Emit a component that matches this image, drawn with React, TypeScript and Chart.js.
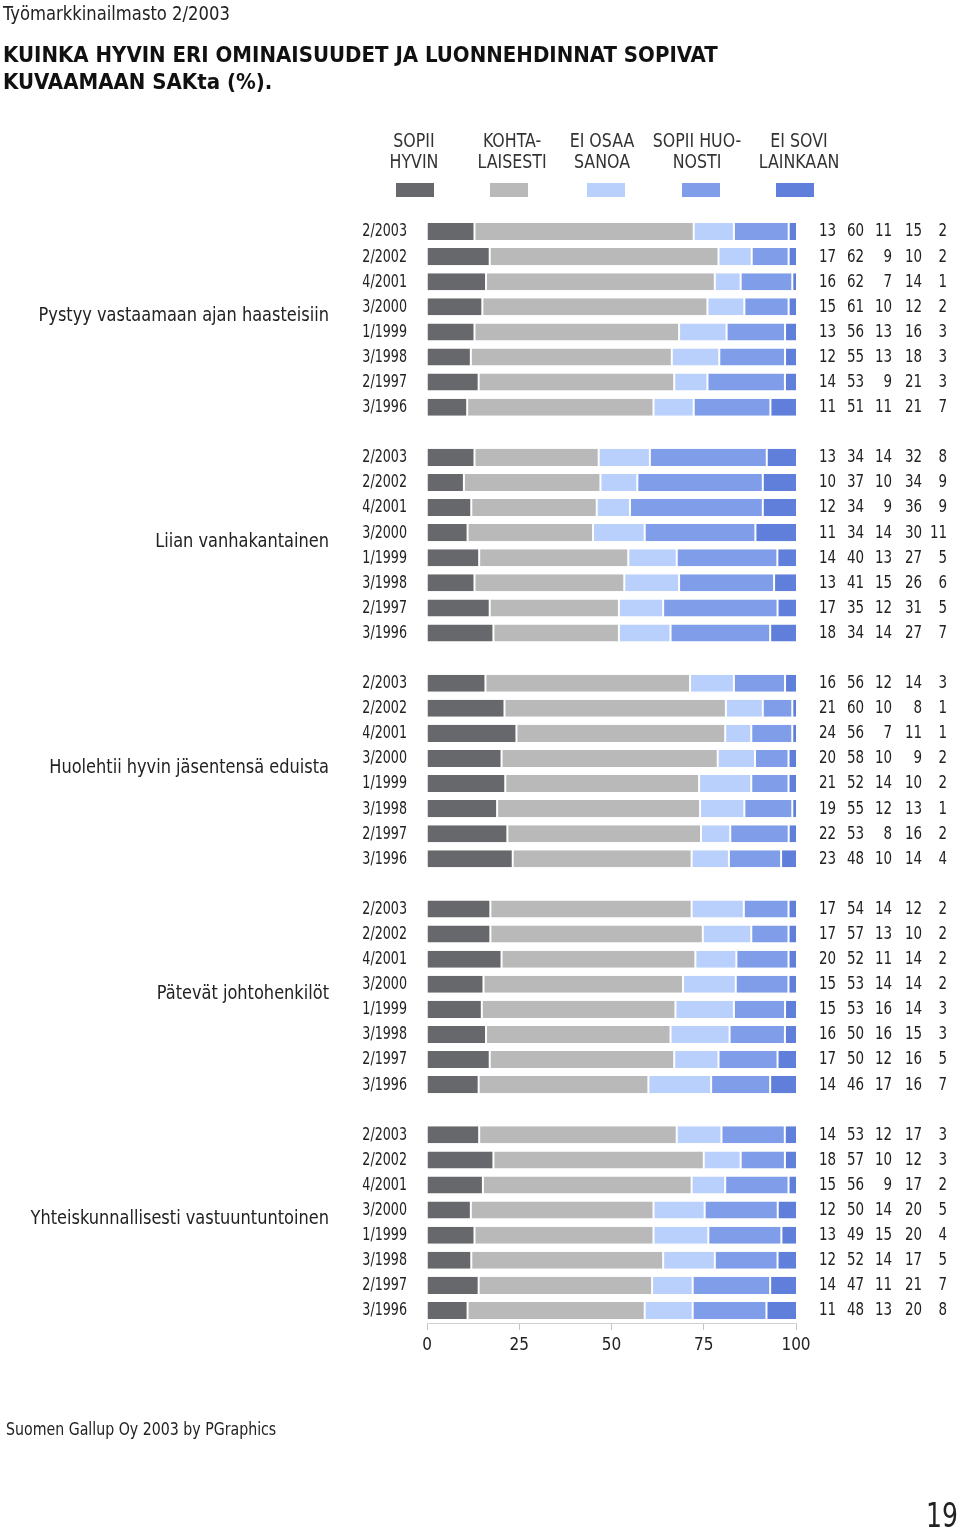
import React, { useEffect, useRef } from "react";
import { Chart, registerables } from "chart.js";

Chart.register(...registerables);

const FONT = '"Liberation Sans Narrow", "DejaVu Sans Condensed", "Arial Narrow", sans-serif';

const groups = [
  "Pystyy vastaamaan ajan haasteisiin",
  "Liian vanhakantainen",
  "Huolehtii hyvin jäsentensä eduista",
  "Pätevät johtohenkilöt",
  "Yhteiskunnallisesti vastuuntuntoinen",
];

const periods = ["2/2003", "2/2002", "4/2001", "3/2000", "1/1999", "3/1998", "2/1997", "3/1996"];

const seriesNames = [
  ["SOPII", "HYVIN"],
  ["KOHTA-", "LAISESTI"],
  ["EI OSAA", "SANOA"],
  ["SOPII HUO-", "NOSTI"],
  ["EI SOVI", "LAINKAAN"],
];

const seriesColors = ["#67686c", "#b9b9ba", "#b8d0fb", "#7f9de9", "#5f7fdb"];

const sopiiHyvin = [
  13, 17, 16, 15, 13, 12, 14, 11,
  13, 10, 12, 11, 14, 13, 17, 18,
  16, 21, 24, 20, 21, 19, 22, 23,
  17, 17, 20, 15, 15, 16, 17, 14,
  14, 18, 15, 12, 13, 12, 14, 11,
];
const kohtalaisesti = [
  60, 62, 62, 61, 56, 55, 53, 51,
  34, 37, 34, 34, 40, 41, 35, 34,
  56, 60, 56, 58, 52, 55, 53, 48,
  54, 57, 52, 53, 53, 50, 50, 46,
  53, 57, 56, 50, 49, 52, 47, 48,
];
const eiOsaaSanoa = [
  11, 9, 7, 10, 13, 13, 9, 11,
  14, 10, 9, 14, 13, 15, 12, 14,
  12, 10, 7, 10, 14, 12, 8, 10,
  14, 13, 11, 14, 16, 16, 12, 17,
  12, 10, 9, 14, 15, 14, 11, 13,
];
const sopiiHuonosti = [
  15, 10, 14, 12, 16, 18, 21, 21,
  32, 34, 36, 30, 27, 26, 31, 27,
  14, 8, 11, 9, 10, 13, 16, 14,
  12, 10, 14, 14, 14, 15, 16, 16,
  17, 12, 17, 20, 20, 17, 21, 20,
];
const eiSoviLainkaan = [
  2, 2, 1, 2, 3, 3, 3, 7,
  8, 9, 9, 11, 5, 6, 5, 7,
  3, 1, 1, 2, 2, 1, 2, 4,
  2, 2, 2, 2, 3, 3, 5, 7,
  3, 3, 2, 5, 4, 5, 7, 8,
];

const xTicks = [0, 25, 50, 75, 100];

const seriesValues = [sopiiHyvin, kohtalaisesti, eiOsaaSanoa, sopiiHuonosti, eiSoviLainkaan];

// category rows with a spacer row between groups
const rowLabels: string[] = [];
const rowIndex: number[] = [];
groups.forEach((g, gi) => {
  periods.forEach((p, pi) => {
    rowLabels.push(p);
    rowIndex.push(gi * periods.length + pi);
  });
  if (gi < groups.length - 1) {
    rowLabels.push("");
    rowIndex.push(-1);
  }
});

const totals = rowIndex.map((ri) =>
  ri < 0 ? 0 : seriesValues.reduce((s, arr) => s + arr[ri], 0)
);

function drawText(ctx: CanvasRenderingContext2D, text: string, x: number, y: number, align: CanvasTextAlign, sx: number) {
  ctx.save();
  ctx.translate(x, y);
  ctx.scale(sx, 1);
  ctx.textAlign = align;
  ctx.fillText(text, 0, 0);
  ctx.restore();
}

const overlayPlugin = {
  id: "overlay",
  afterDraw(chart: any) {
    const ctx: CanvasRenderingContext2D = chart.ctx;
    const y = chart.scales.y;
    ctx.save();
    ctx.fillStyle = "#222";
    ctx.textBaseline = "middle";

    // period labels (y axis categories)
    ctx.font = `17px ${FONT}`;
    rowLabels.forEach((lab, r) => {
      if (!lab) return;
      drawText(ctx, lab, 407, y.getPixelForValue(r) + 0.5, "right", 0.83);
    });

    // group labels
    ctx.font = `20px ${FONT}`;
    groups.forEach((g, gi) => {
      const first = rowIndex.indexOf(gi * periods.length);
      const last = rowIndex.indexOf(gi * periods.length + periods.length - 1);
      const cy = (y.getPixelForValue(first) + y.getPixelForValue(last)) / 2 - 3.5;
      drawText(ctx, g, 329, cy, "right", 0.9);
    });

    // numbers on the right
    const cols = [836, 864, 892, 922, 947];
    ctx.font = `17px ${FONT}`;
    rowIndex.forEach((ri, r) => {
      if (ri < 0) return;
      const cy = y.getPixelForValue(r) + 0.5;
      seriesValues.forEach((arr, j) => {
        drawText(ctx, String(arr[ri]), cols[j], cy, "right", 0.88);
      });
    });

    // legend
    const textX = [414, 512, 602, 697, 799];
    const swX = [415, 509, 606, 701, 795];
    ctx.font = `20px ${FONT}`;
    seriesNames.forEach((lines, j) => {
      ctx.fillStyle = "#333";
      drawText(ctx, lines[0], textX[j], 142, "center", 0.88);
      drawText(ctx, lines[1], textX[j], 163, "center", 0.88);
      ctx.fillStyle = seriesColors[j];
      ctx.fillRect(swX[j] - 19, 183, 38, 14);
    });
    ctx.restore();
  },
};

export default function App() {
  const ref = useRef<HTMLCanvasElement | null>(null);

  useEffect(() => {
    if (!ref.current) return;
    const datasets = seriesValues.map((arr, j) => ({
      label: seriesNames[j].join(" "),
      data: rowIndex.map((ri, r) => (ri < 0 ? null : (arr[ri] / totals[r]) * 100)),
      backgroundColor: seriesColors[j],
      borderColor: "#ffffff",
      borderWidth: { left: j === 0 ? 0 : 1, right: j === 4 ? 0 : 1, top: 0, bottom: 0 },
      borderSkipped: false,
      barPercentage: 0.68,
      categoryPercentage: 1,
    }));

    const chart = new Chart(ref.current, {
      type: "bar",
      data: { labels: rowLabels, datasets: datasets as any },
      options: {
        indexAxis: "y",
        responsive: false,
        animation: false,
        devicePixelRatio: 1,
        layout: { padding: { left: 0, right: 164, top: 219, bottom: 168 } },
        plugins: { legend: { display: false }, tooltip: { enabled: false } },
        scales: {
          x: {
            stacked: true,
            min: 0,
            max: 100,
            afterBuildTicks: (s: any) => {
              s.ticks = xTicks.map((v) => ({ value: v }));
            },
            afterFit: (s: any) => {
              s.height = 40;
            },
            ticks: { font: { family: FONT, size: 17 }, color: "#222", padding: 5 },
            grid: { drawOnChartArea: false, drawTicks: true, tickLength: 7, color: "#c4c4c4" },
            border: { display: true, color: "#d0d0d0" },
          },
          y: {
            stacked: true,
            afterFit: (s: any) => {
              s.width = 427;
            },
            ticks: { display: false, autoSkip: false },
            grid: { display: false },
            border: { display: false },
          },
        },
      },
      plugins: [overlayPlugin],
    });
    return () => chart.destroy();
  }, []);

  const txt = (extra: React.CSSProperties): React.CSSProperties => ({
    position: "absolute",
    fontFamily: FONT,
    color: "#222",
    whiteSpace: "nowrap",
    margin: 0,
    ...extra,
  });

  return (
    <div style={{ position: "absolute", left: 0, top: 0, width: 960, height: 1531, background: "#fff" }}>
      <canvas ref={ref} width={960} height={1531} style={{ position: "absolute", left: 0, top: 0, width: 960, height: 1531 }} />
      <div style={txt({ left: 3, top: 2, fontSize: 19, lineHeight: "22px", transform: "scaleX(0.96)", transformOrigin: "left center" })}>
        Työmarkkinailmasto 2/2003
      </div>
      <div style={txt({ left: 3, top: 41, fontSize: 22, lineHeight: "27px", fontWeight: "bold", color: "#111" })}>
        KUINKA HYVIN ERI OMINAISUUDET JA LUONNEHDINNAT SOPIVAT
        <br />
        KUVAAMAAN SAKta (%).
      </div>
      <div style={txt({ left: 6, top: 1418, fontSize: 18, lineHeight: "22px", transform: "scaleX(0.875)", transformOrigin: "left center" })}>
        Suomen Gallup Oy 2003 by PGraphics
      </div>
      <div style={txt({ right: 2, top: 1496, fontSize: 34, lineHeight: "38px", transform: "scaleX(0.82)", transformOrigin: "right center" })}>
        19
      </div>
    </div>
  );
}
